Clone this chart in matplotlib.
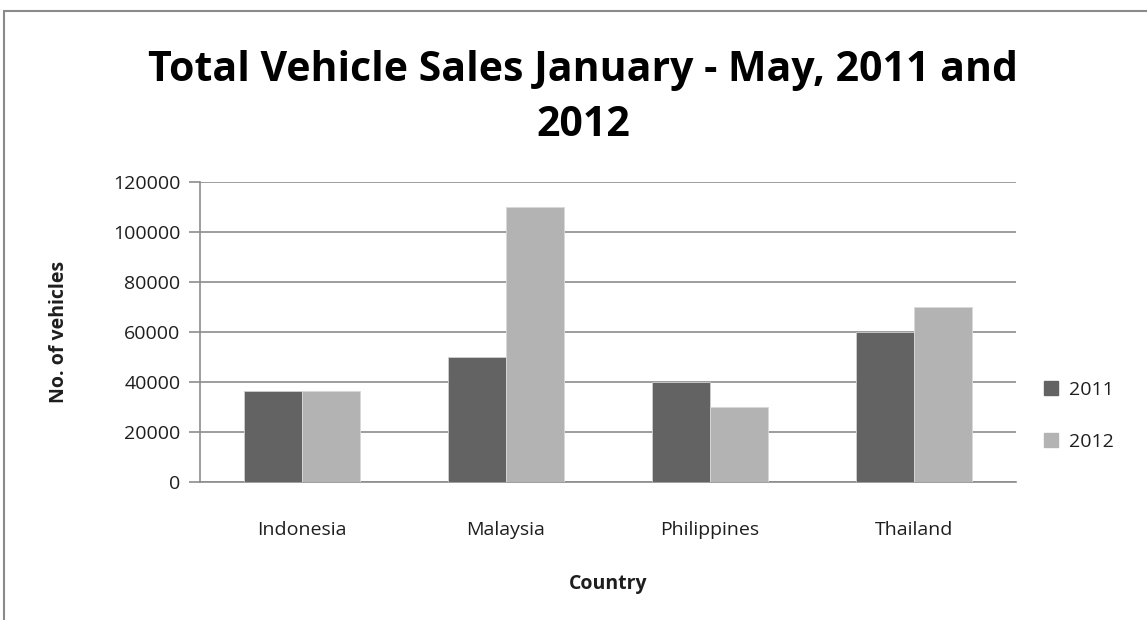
import numpy as np
import matplotlib.pyplot as plt
from matplotlib.patches import Rectangle, Patch

plt.rcParams.update({
    'font.family': ['Open Sans', 'DejaVu Sans'],
    'font.size': 14,
})

countries = ['Indonesia', 'Malaysia', 'Philippines', 'Thailand']
sales_2011 = [36500, 50000, 40000, 60000]
sales_2012 = [36500, 110000, 30000, 70000]
series_names = ['2011', '2012']
yticks = [0, 20000, 40000, 60000, 80000, 100000, 120000]

dark = '#636363'
light = '#b3b3b3'
grid_c = '#8c8c8c'
text_c = '#1e1e1e'

fig = plt.figure(figsize=(11.47, 6.2), dpi=100)
ax = fig.add_axes([200/1147, 1-482.3/620, 816/1147, 300/620])

# outer chart border (only top and left visible in the crop)
fig.add_artist(Rectangle((4/1147, -0.1), 1.2, 1 - 11/620 + 0.1,
                         transform=fig.transFigure, fill=False,
                         edgecolor='#8a8a8a', linewidth=1.5))

x = np.arange(len(countries))
w = 0.285
ax.bar(x - w/2, sales_2011, w, color=dark, edgecolor='#d0d0d0', linewidth=0.6, zorder=3)
ax.bar(x + w/2, sales_2012, w, color=light, edgecolor='#d8d8d8', linewidth=0.6, zorder=3)

ax.set_xlim(-0.5, len(countries) - 0.5)
ax.set_ylim(0, 120000)
ax.set_yticks(yticks)
ax.set_yticklabels([str(t) for t in yticks])
ax.set_xticks(x)
ax.set_xticklabels(countries)
ax.yaxis.grid(True, color=grid_c, linewidth=1.2, zorder=0)
ax.set_axisbelow(True)

for s in ['top', 'right']:
    ax.spines[s].set_visible(False)
ax.spines['left'].set_color(grid_c)
ax.spines['left'].set_linewidth(1.2)
ax.spines['bottom'].set_color(grid_c)
ax.spines['bottom'].set_linewidth(1.2)
ax.tick_params(axis='y', length=8, width=1.2, color=grid_c, labelsize=14,
               labelcolor=text_c, pad=6)
ax.tick_params(axis='x', length=0, labelsize=14, labelcolor=text_c, pad=28)

ax.set_ylabel('No. of vehicles', fontsize=14, fontweight='bold', color=text_c, labelpad=32)
ax.set_xlabel('Country', fontsize=14, fontweight='bold', color=text_c, labelpad=25)

fig.text(583/1147, 1-98/620, 'Total Vehicle Sales January - May, 2011 and\n2012',
         ha='center', va='center', fontsize=29.5, fontweight='bold',
         color='black', linespacing=1.45)

handles = [Patch(color=dark), Patch(color=light)]
fig.legend(handles, series_names, loc='center left',
           bbox_to_anchor=(1026/1147, 1-416/620), frameon=False,
           fontsize=14, handlelength=0.75, handleheight=0.75,
           handletextpad=0.55, labelspacing=1.75, labelcolor=text_c)

fig.savefig('out.png', dpi=100)
